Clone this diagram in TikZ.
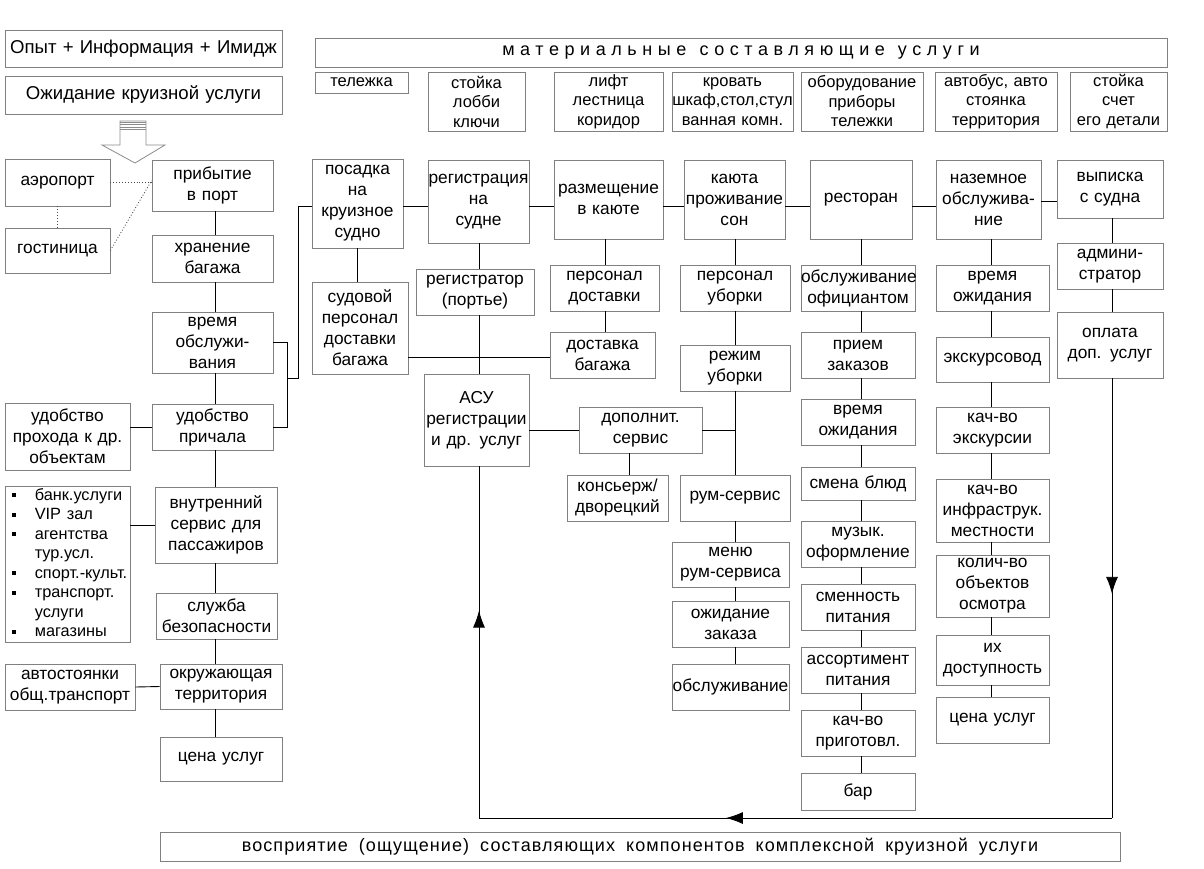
\documentclass[tikz,border=0pt]{standalone}
\usepackage{fontspec}
\setmainfont{Liberation Sans}
\usetikzlibrary{arrows.meta,decorations.markings,calc}
\tikzset{
  box/.style={draw=black!50, line width=0.8pt, inner sep=0pt, align=center, font=\fontsize{17.3}{21}\selectfont},
  matbox/.style={box, font=\fontsize{16.5}{19.5}\selectfont},
  bigbox/.style={box, font=\fontsize{18.6}{22}\selectfont},
  conn/.style={line width=0.9pt, black},
  dots/.style={line width=0.9pt, dotted, black!70},
}
\newcommand\mybox[7][]{%
  \pgfmathsetmacro\mbW{#5-#3}\pgfmathsetmacro\mbH{#6-#4}%
  \pgfmathsetmacro\mbX{(#3+#5)/2}\pgfmathsetmacro\mbY{(#4+#6)/2}%
  \node[box,#1,text width=\mbW pt,minimum height=\mbH pt] (#2) at (\mbX,\mbY) {#7};}
\newcommand\bul{\raisebox{3pt}{\rule{4pt}{4pt}}}
\newcommand\wsp{\hspace{13pt}}
\begin{document}
\begin{tikzpicture}[x=1pt,y=-1pt]
\useasboundingbox[fill=white] (0,0) rectangle (1204,868);
% left column
\mybox[bigbox]{top1}{5}{30}{282}{67}{Опыт + Информация + Имидж}
\mybox[bigbox]{top2}{5}{76}{282}{114}{Ожидание круизной услуги}
\mybox{airport}{5}{159}{110}{206}{аэропорт}
\mybox{hotel}{5}{228}{110}{273}{гостиница}
\mybox{arrival}{152}{160}{273}{211}{прибытие\\в порт}
\mybox{storage}{152}{235}{273}{282}{хранение\\багажа}
\mybox{servtime}{152}{312}{273}{373}{время\\обслужи-\\вания}
\mybox{berth}{152}{404}{273}{450}{удобство\\причала}
\mybox{passage}{5}{403}{130}{470}{удобство\\прохода к др.\\объектам}
\mybox{list}{5}{487}{130}{642}{{\fontsize{16.3}{19.5}\selectfont\renewcommand\arraystretch{1}%
\begin{tabular}{@{\hspace{4pt}}l@{\hspace{19pt}}l@{}}
\bul & банк.услуги\\
\bul & VIP зал\\
\bul & агентства\\
 & тур.усл.\\
\bul & спорт.-культ.\\
\bul & транспорт.\\
 & услуги\\
\bul & магазины
\end{tabular}\hfill}}
\mybox{inner}{155}{487}{277}{563}{внутренний\\сервис для\\пассажиров}
\mybox{security}{156}{593}{277}{639}{служба\\безопасности}
\mybox{territory}{160}{664}{282}{709}{окружающая\\территория}
\mybox{parking}{5}{664}{135}{710}{автостоянки\\общ.транспорт}
\mybox{price1}{160}{737}{282}{781}{цена услуг}
% block arrow
\draw[black!45, line width=0.8pt, fill=white] (120,121) -- (146,121) -- (146,145) -- (165,145) -- (135,163) -- (102,145) -- (120,145) -- cycle;
\foreach \yy in {122,124.5,127,129.5} \draw[black!45, line width=1pt] (120,\yy) -- (146,\yy);
% material row
\mybox[font=\fontsize{18}{21}\selectfont]{mat}{315}{38}{1167}{67}{\addfontfeature{LetterSpace=31}материальные\wsp составляющие\wsp услуги}
\mybox[matbox]{m1}{315}{72}{408}{93}{тележка}
\mybox[matbox]{m2}{428}{72}{525}{131}{стойка\\лобби\\ключи}
\mybox[matbox]{m3}{554}{72}{663}{131}{лифт\\лестница\\коридор}
\mybox[matbox]{m4}{672}{72}{793}{131}{кровать\\шкаф,стол,стул\\ванная комн.}
\mybox[matbox]{m5}{801}{72}{923}{131}{оборудование\\приборы\\тележки}
\mybox[matbox]{m6}{935}{72}{1057}{131}{автобус, авто\\стоянка\\территория}
\mybox[matbox]{m7}{1070}{72}{1167}{131}{стойка\\счет\\его детали}
% main row
\mybox{board}{312}{159}{403}{248}{посадка\\на\\круизное\\судно}
\mybox{reg}{428}{160}{529}{243}{регистрация\\на\\судне}
\mybox{accom}{554}{160}{663}{239}{размещение\\в каюте}
\mybox{cabin}{684}{160}{785}{239}{каюта\\проживание\\сон}
\mybox{rest}{810}{160}{912}{239}{ресторан}
\mybox{ground}{936}{160}{1041}{239}{наземное\\обслужива-\\ние}
\mybox{checkout}{1057}{160}{1163}{218}{выписка\\с судна}
% lower boxes
\mybox{crew}{312}{282}{408}{374}{судовой\\персонал\\доставки\\багажа}
\mybox{porter}{416}{269}{534}{315}{регистратор\\(портье)}
\mybox{asu}{424}{374}{529}{466}{АСУ\\регистрации\\и др. услуг}
\mybox{staffdel}{550}{265}{659}{311}{персонал\\доставки}
\mybox{delivery}{550}{332}{655}{378}{доставка\\багажа}
\mybox{extra}{579}{407}{702}{453}{дополнит.\\сервис}
\mybox{concierge}{567}{475}{668}{521}{консьерж/\\дворецкий}
\mybox{cleanstaff}{680}{265}{790}{311}{персонал\\уборки}
\mybox{cleanmode}{680}{345}{790}{391}{режим\\уборки}
\mybox{room}{680}{475}{790}{521}{рум-сервис}
\mybox{menu}{672}{542}{789}{587}{меню\\рум-сервиса}
\mybox{waitorder}{672}{601}{789}{647}{ожидание\\заказа}
\mybox{service}{672}{664}{789}{710}{обслуживание}
\mybox{waiter}{801}{265}{915}{311}{обслуживание\\официантом}
\mybox{orders}{801}{332}{915}{378}{прием\\заказов}
\mybox{rwait}{801}{399}{915}{445}{время\\ожидания}
\mybox{dishes}{801}{467}{915}{500}{смена блюд}
\mybox{music}{801}{521}{915}{567}{музык.\\оформление}
\mybox{shifts}{801}{584}{915}{630}{сменность\\питания}
\mybox{assort}{801}{647}{915}{693}{ассортимент\\питания}
\mybox{quality}{801}{710}{915}{756}{кач-во\\приготовл.}
\mybox{bar}{801}{773}{915}{810}{бар}
\mybox{gwait}{936}{265}{1049}{311}{время\\ожидания}
\mybox{guide}{936}{337}{1049}{382}{экскурсовод}
\mybox{excq}{936}{407}{1049}{453}{кач-во\\экскурсии}
\mybox{infra}{936}{479}{1049}{542}{кач-во\\инфраструк.\\местности}
\mybox{objects}{936}{555}{1049}{617}{колич-во\\объектов\\осмотра}
\mybox{access}{936}{635}{1049}{685}{их\\доступность}
\mybox{price2}{936}{697}{1049}{743}{цена услуг}
\mybox{admin}{1057}{243}{1163}{289}{админи-\\стратор}
\mybox{payment}{1057}{312}{1163}{378}{оплата\\доп. услуг}
\mybox[font=\fontsize{18}{21}\selectfont]{bottom}{160}{832}{1120}{861}{\addfontfeature{LetterSpace=6}\spaceskip=11pt восприятие (ощущение) составляющих компонентов комплексной круизной услуги}
% column coordinates
\coordinate (cA) at (215,0);
\coordinate (cB) at (357,0);
\coordinate (cC) at (479,0);
\coordinate (cD) at (605,0);
\coordinate (cE) at (735,0);
\coordinate (cF) at (861,0);
\coordinate (cG) at (991,0);
\coordinate (cH) at (1112,0);
\coordinate (cX) at (629,0);
\coordinate (r206) at (0,206);
\coordinate (r201) at (0,201);
\coordinate (r357) at (0,357);
\coordinate (bx) at (287,0);
\coordinate (j) at (287,378);
\coordinate (j2) at (298,378);
\coordinate (j3) at (298,206);
\coordinate (c1) at (1112,818);
\coordinate (c2) at (479,818);
% dotted links
\draw[dots] (airport.east) -- (airport.east -| arrival.west);
\draw[dots] (airport.south) -- (hotel.north);
\draw[dots] (hotel.east) -- ([yshift=5pt]arrival.west);
% left column
\foreach \a/\b in {arrival/storage,storage/servtime,servtime/berth,berth/inner,inner/security,security/territory,territory/price1}
  \draw[conn] (\a.south -| cA) -- (\b.north -| cA);
\draw[conn] (berth.west -| passage.east) -- (berth.west);
\draw[conn] (inner.west -| list.east) -- (inner.west);
\draw[conn] (parking.east) -- (territory.west);
\draw[conn] (servtime.east) -- (servtime.east -| bx) -- (berth.east -| bx) -- (berth.east);
\draw[conn] (board.west |- j3) -- (j3) -- (j2) -- (j);
% main row
\foreach \a/\b in {board/reg,reg/accom,accom/cabin,cabin/rest,rest/ground}
  \draw[conn] (\a.east |- r206) -- (\b.west |- r206);
\draw[conn] (ground.east |- r201) -- (checkout.west |- r201);
% columns
\draw[conn] (board.south -| cB) -- (crew.north -| cB);
\draw[conn] (reg.south -| cC) -- (porter.north -| cC);
\draw[conn] (porter.south -| cC) -- (asu.north -| cC);
\draw[conn] (crew.east |- r357) -- (delivery.west |- r357);
\draw[conn] (accom.south -| cD) -- (staffdel.north -| cD);
\draw[conn] (staffdel.south -| cD) -- (delivery.north -| cD);
\draw[conn] (extra.west -| asu.east) -- (extra.west);
\draw[conn] (extra.south -| cX) -- (concierge.north -| cX);
\draw[conn] (extra.east) -- (extra.east -| cE);
\foreach \a/\b in {cabin/cleanstaff,cleanstaff/cleanmode,cleanmode/room,room/menu,menu/waitorder,waitorder/service}
  \draw[conn] (\a.south -| cE) -- (\b.north -| cE);
\foreach \a/\b in {rest/waiter,waiter/orders,orders/rwait,rwait/dishes,dishes/music,music/shifts,shifts/assort,assort/quality,quality/bar}
  \draw[conn] (\a.south -| cF) -- (\b.north -| cF);
\foreach \a/\b in {ground/gwait,gwait/guide,guide/excq,excq/infra,infra/objects,objects/access,access/price2}
  \draw[conn] (\a.south -| cG) -- (\b.north -| cG);
\foreach \a/\b in {checkout/admin,admin/payment}
  \draw[conn] (\a.south -| cH) -- (\b.north -| cH);
% feedback arrows
\tikzset{tipA/.style={decoration={markings, mark=at position #1 with {\arrow{Latex[length=17pt,width=12pt]}}}, postaction={decorate}}}
\draw[conn, tipA=0.49] (payment.south -| cH) -- (c1);
\draw[conn, tipA=0.61] (c1) -- (c2);
\draw[conn, tipA=0.59] (c2) -- (asu.south -| cC);
\end{tikzpicture}
\end{document}
